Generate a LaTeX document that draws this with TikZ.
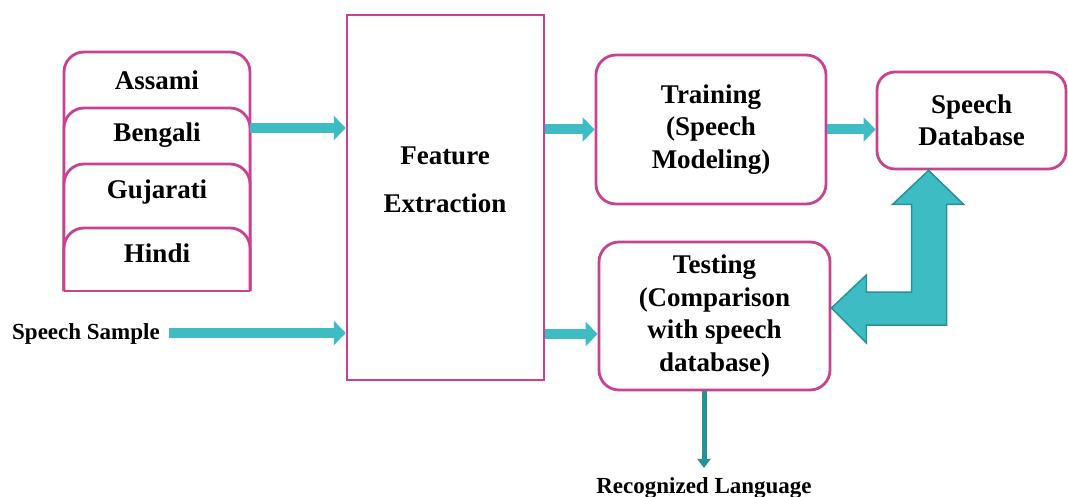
\documentclass[tikz,border=0pt]{standalone}
\usepackage{fontspec}
\setmainfont{Liberation Serif}
\usetikzlibrary{arrows.meta,calc}
\definecolor{pinkline}{RGB}{199,66,145}
\definecolor{tealfill}{RGB}{62,188,195}
\definecolor{tealline}{RGB}{40,145,150}
\begin{document}
\begin{tikzpicture}[
    x=1pt, y=-1pt,
    boxtext/.style={font=\bfseries\fontsize{27}{32.5}\selectfont, align=center},
    sidetext/.style={font=\bfseries\fontsize{23}{27}\selectfont},
    roundbox/.style={rectangle, rounded corners=20pt, draw=pinkline, line width=2.8pt, boxtext},
    tabshape/.style={draw=pinkline, fill=white, line width=2.8pt, rounded corners=20pt},
    flow/.style={-{Triangle[length=12pt,width=24pt]}, line width=10pt, tealfill},
    bigarrow/.style={fill=tealfill, draw=tealline, line width=1.5pt, line join=miter},
    outarrow/.style={-{Triangle[length=9pt,width=13pt]}, line width=5pt, tealline, shorten >=6pt}
]
    \useasboundingbox (0,0) rectangle (1068,497);

    % language tabs
    \foreach \top in {52,108,164,228}
        \filldraw[tabshape] (64,291) -- (64,\top) -- (250,\top) -- (250,291);
    \draw[draw=pinkline, line width=2.8pt] (64,291) -- (250,291);
    \node[boxtext] (assami) at (157,80) {Assami};
    \node[boxtext] (bengali) at (157,135) {Bengali};
    \node[boxtext] (gujarati) at (157,192) {Gujarati};
    \node[boxtext] (hindi) at (157,253) {Hindi};
    \coordinate (langs) at (250,128);

    % main blocks
    \node[rectangle, draw=pinkline, line width=2.5pt, minimum width=197pt, minimum height=365pt] (feat) at (445.5,197.5) {};
    \node[boxtext, text width=190pt] (feattxt) at (445,180) {Feature\\[16pt]Extraction};
    \node[roundbox, minimum width=230pt, minimum height=149pt] (train) at (711,129.5) {Training\\(Speech\\Modeling)};
    \node[roundbox, minimum width=189pt, minimum height=97pt, rounded corners=18pt] (db) at (971.5,120.5) {Speech\\Database};
    \node[roundbox, minimum width=231pt, minimum height=148pt] (test) at (714.5,316) {Testing\\(Comparison\\with speech\\database)};

    \node[sidetext] (sample) at (86,334) {Speech Sample};
    \node[sidetext] (result) at (704,488) {Recognized Language};

    % connectors
    \draw[flow] (langs) -- (langs -| feat.west);
    \draw[flow] (feat.east |- train) -- (train.west);
    \draw[flow] (train.east) -- (train.east -| db.west);
    \draw[flow] ($(sample.east)+(6,-1)$) -- ($(sample -| feat.west)+(0,-1)$);
    \draw[flow] (feat.east |- sample) -- (test.west |- sample);
    \draw[outarrow] (result.north |- test.south) -- (result.north);

    % two-way arrow between database and testing
    \coordinate (up) at ($(db.south west)+(53,0)$);
    \coordinate (left) at ($(test.east)+(0,-8)$);
    \draw[bigarrow] (up) -- ++(35,34) -- ++(-17,0) |- ($(left)+(35,17)$) -- ++(0,18) -- (left)
        -- ++(35,-33) -- ++(0,17) -| ($(up)+(-17,34)$) -- ++(-19,0) -- cycle;
\end{tikzpicture}
\end{document}
